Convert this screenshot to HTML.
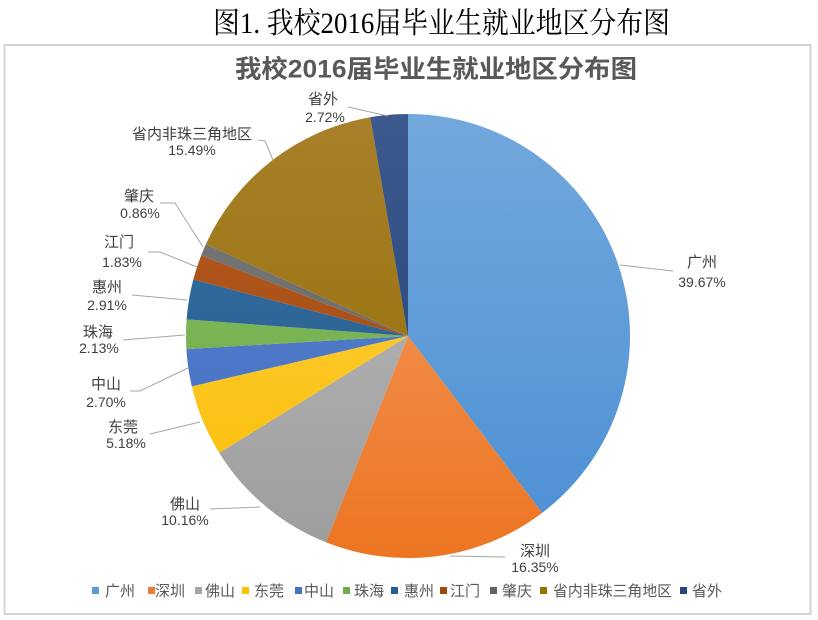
<!DOCTYPE html>
<html>
<head>
<meta charset="utf-8">
<style>
  html,body{margin:0;padding:0;background:#fff;}
  svg{display:block;}
</style>
</head>
<body>
<svg width="818" height="620" viewBox="0 0 818 620" xmlns="http://www.w3.org/2000/svg">
  <defs>
    <linearGradient id="g0" x1="0" y1="114" x2="0" y2="558" gradientUnits="userSpaceOnUse"><stop offset="0" stop-color="#72a8dc"/><stop offset="1" stop-color="#4b8fd4"/></linearGradient>
    <linearGradient id="g1" x1="0" y1="114" x2="0" y2="558" gradientUnits="userSpaceOnUse"><stop offset="0" stop-color="#f5a06a"/><stop offset="1" stop-color="#ec7522"/></linearGradient>
    <linearGradient id="g2" x1="0" y1="114" x2="0" y2="558" gradientUnits="userSpaceOnUse"><stop offset="0" stop-color="#bdbdbd"/><stop offset="1" stop-color="#9d9d9d"/></linearGradient>
    <linearGradient id="g3" x1="0" y1="114" x2="0" y2="558" gradientUnits="userSpaceOnUse"><stop offset="0" stop-color="#ffd24d"/><stop offset="1" stop-color="#fbbd00"/></linearGradient>
    <linearGradient id="g4" x1="0" y1="114" x2="0" y2="558" gradientUnits="userSpaceOnUse"><stop offset="0" stop-color="#5f86cf"/><stop offset="1" stop-color="#3e6cc0"/></linearGradient>
    <linearGradient id="g5" x1="0" y1="114" x2="0" y2="558" gradientUnits="userSpaceOnUse"><stop offset="0" stop-color="#8cc066"/><stop offset="1" stop-color="#68a640"/></linearGradient>
    <linearGradient id="g6" x1="0" y1="114" x2="0" y2="558" gradientUnits="userSpaceOnUse"><stop offset="0" stop-color="#3a72a6"/><stop offset="1" stop-color="#215889"/></linearGradient>
    <linearGradient id="g7" x1="0" y1="114" x2="0" y2="558" gradientUnits="userSpaceOnUse"><stop offset="0" stop-color="#bb5d20"/><stop offset="1" stop-color="#974510"/></linearGradient>
    <linearGradient id="g8" x1="0" y1="114" x2="0" y2="558" gradientUnits="userSpaceOnUse"><stop offset="0" stop-color="#7d7d7d"/><stop offset="1" stop-color="#5e5e5e"/></linearGradient>
    <linearGradient id="g9" x1="0" y1="114" x2="0" y2="558" gradientUnits="userSpaceOnUse"><stop offset="0" stop-color="#a8802a"/><stop offset="1" stop-color="#936d00"/></linearGradient>
    <linearGradient id="g10" x1="0" y1="114" x2="0" y2="558" gradientUnits="userSpaceOnUse"><stop offset="0" stop-color="#3c5a8e"/><stop offset="1" stop-color="#223f72"/></linearGradient>
  </defs>

  <!-- page title -->
  <g transform="translate(213,33) scale(1,1.1)">
    <text x="0" y="0" font-family="'Liberation Serif','Noto Serif CJK SC',serif" font-size="27" fill="#000" textLength="457" lengthAdjust="spacingAndGlyphs">图1. 我校2016届毕业生就业地区分布图</text>
  </g>

  <!-- chart frame -->
  <rect x="4.5" y="45" width="806" height="569" fill="#fff" stroke="#d4d4d4" stroke-width="2"/>

  <!-- chart title -->
  <text x="235" y="77.5" font-family="'Liberation Sans','Noto Sans CJK SC',sans-serif" font-size="25" font-weight="bold" fill="#595959" textLength="402" lengthAdjust="spacingAndGlyphs">我校2016届毕业生就业地区分布图</text>

  <!-- pie slices -->
  <g>
    <path d="M408,336 L408,114 A222,222 0 0 1 542.18,512.87 Z" fill="url(#g0)"/>
    <path d="M408,336 L542.18,512.87 A222,222 0 0 1 326.02,542.30 Z" fill="url(#g1)"/>
    <path d="M408,336 L326.02,542.30 A222,222 0 0 1 219.23,452.86 Z" fill="url(#g2)"/>
    <path d="M408,336 L219.23,452.86 A222,222 0 0 1 191.79,386.33 Z" fill="url(#g3)"/>
    <path d="M408,336 L191.79,386.33 A222,222 0 0 1 186.39,349.10 Z" fill="url(#g4)"/>
    <path d="M408,336 L186.39,349.10 A222,222 0 0 1 186.62,319.42 Z" fill="url(#g5)"/>
    <path d="M408,336 L186.62,319.42 A222,222 0 0 1 193.33,279.44 Z" fill="url(#g6)"/>
    <path d="M408,336 L193.33,279.44 A222,222 0 0 1 201.23,255.19 Z" fill="url(#g7)"/>
    <path d="M408,336 L201.23,255.19 A222,222 0 0 1 205.90,244.13 Z" fill="url(#g8)"/>
    <path d="M408,336 L205.90,244.13 A222,222 0 0 1 370.24,117.23 Z" fill="url(#g9)"/>
    <path d="M408,336 L370.24,117.23 A222,222 0 0 1 408,114 Z" fill="url(#g10)"/>
  </g>

  <!-- leader lines -->
  <g stroke="#a6a6a6" stroke-width="1" fill="none">
    <polyline points="673,271 620,265"/>
    <polyline points="505,557 450,556"/>
    <polyline points="210,509 260,507"/>
    <polyline points="150,434 200,422"/>
    <polyline points="130,391 140,391 188,368"/>
    <polyline points="123,340 185,335"/>
    <polyline points="132,295 187,300"/>
    <polyline points="148,252 160,252 197,267"/>
    <polyline points="160,203 175,203 203,247"/>
    <polyline points="258,140 265,141 273,160"/>
    <polyline points="348,107 388,116"/>
  </g>

  <!-- data labels -->
  <g font-family="'Liberation Sans','Noto Sans CJK SC',sans-serif" fill="#404040" text-anchor="middle">
    <g font-size="15">
      <text x="702" y="267">广州</text>
      <text x="535" y="556">深圳</text>
      <text x="185" y="509">佛山</text>
      <text x="123" y="432">东莞</text>
      <text x="106" y="389">中山</text>
      <text x="98" y="337">珠海</text>
      <text x="107" y="292">惠州</text>
      <text x="119" y="247">江门</text>
      <text x="139" y="201">肇庆</text>
      <text x="192" y="139">省内非珠三角地区</text>
      <text x="323" y="104">省外</text>
    </g>
    <g font-size="14">
      <text x="702" y="287">39.67%</text>
      <text x="535" y="572">16.35%</text>
      <text x="185" y="525">10.16%</text>
      <text x="126" y="448">5.18%</text>
      <text x="106" y="407">2.70%</text>
      <text x="99" y="353">2.13%</text>
      <text x="107" y="310">2.91%</text>
      <text x="122" y="267">1.83%</text>
      <text x="140" y="218">0.86%</text>
      <text x="192" y="155">15.49%</text>
      <text x="325" y="122">2.72%</text>
    </g>
  </g>

  <!-- legend -->
  <g>
    <rect x="92" y="587" width="7" height="7" fill="#5b9bd5"/>
    <rect x="148" y="587" width="7" height="7" fill="#ed7d31"/>
    <rect x="195" y="587" width="7" height="7" fill="#a5a5a5"/>
    <rect x="242" y="587" width="7" height="7" fill="#ffc000"/>
    <rect x="295" y="587" width="7" height="7" fill="#4472c4"/>
    <rect x="343" y="587" width="7" height="7" fill="#70ad47"/>
    <rect x="391" y="587" width="7" height="7" fill="#255e91"/>
    <rect x="440" y="587" width="7" height="7" fill="#9e480e"/>
    <rect x="490" y="587" width="7" height="7" fill="#636363"/>
    <rect x="540" y="587" width="7" height="7" fill="#997300"/>
    <rect x="680" y="587" width="7" height="7" fill="#264478"/>
  </g>
  <g font-family="'Liberation Sans','Noto Sans CJK SC',sans-serif" font-size="15" fill="#595959">
    <text x="105" y="596">广州</text>
    <text x="155" y="596">深圳</text>
    <text x="205" y="596">佛山</text>
    <text x="254" y="596">东莞</text>
    <text x="304" y="596">中山</text>
    <text x="354" y="596">珠海</text>
    <text x="404" y="596">惠州</text>
    <text x="450" y="596">江门</text>
    <text x="502" y="596">肇庆</text>
    <text x="553" y="596" textLength="119" lengthAdjust="spacingAndGlyphs">省内非珠三角地区</text>
    <text x="692" y="596">省外</text>
  </g>
</svg>
</body>
</html>
